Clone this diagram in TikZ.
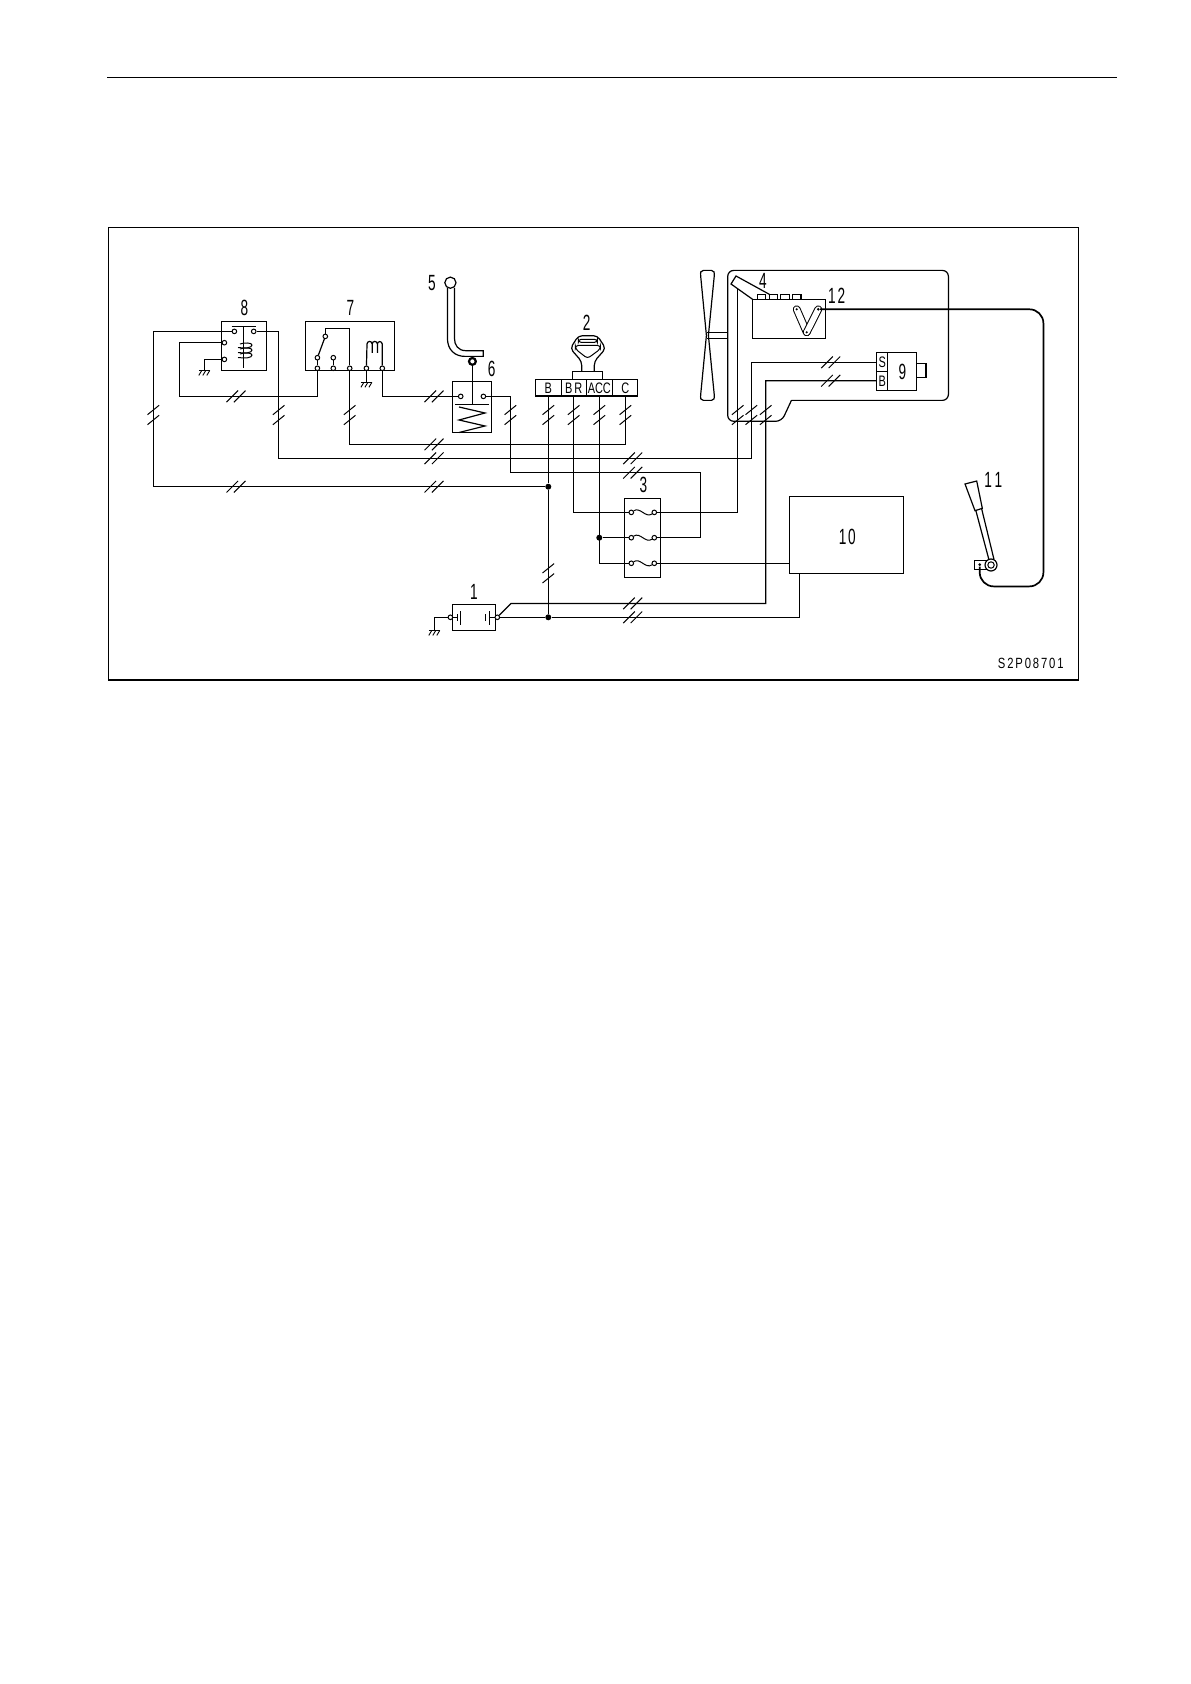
\documentclass[tikz,border=0pt]{standalone}
\usepackage{fontspec}
\setmainfont{Liberation Sans}
\tikzset{
  wire/.style={line width=0.6pt},
  contact/.style={circle, draw, fill=white, line width=0.5pt, inner sep=0pt, minimum size=2.3pt},
  junction/.style={circle, fill=black, inner sep=0pt, minimum size=3pt},
  housing/.style={draw, line width=0.6pt, fill=white, inner sep=0pt, outer sep=0pt, anchor=north west},
  callout/.style={font=\fontsize{11}{12}\selectfont, xscale=0.62, inner sep=0pt},
  pinlabel/.style={font=\fontsize{7.6}{8}\selectfont, xscale=0.72, inner sep=0pt},
  earth/.pic={
    \draw [wire] (-5.5, 0) -- (5.5, 0);
    \foreach \s in {-4, 0, 4}
      \draw [line width=0.45pt] (\s+1.5, 0) -- (\s-1.5, 5);
  }
}
\newcommand{\hashh}[2]{%
  \draw [line width=0.5pt] (#1-9.5, #2+5.8) -- (#1+2.1, #2-5.8);
  \draw [line width=0.5pt] (#1-2.1, #2+5.8) -- (#1+9.5, #2-5.8);
}
\newcommand{\hashv}[2]{%
  \draw [line width=0.5pt] (#1-5.8, #2-0.3) -- (#1+5.8, #2-9.7);
  \draw [line width=0.5pt] (#1-5.8, #2+9.7) -- (#1+5.8, #2+0.3);
}
\begin{document}
\begin{tikzpicture}[x=0.5pt, y=-0.5pt]
  \useasboundingbox (0, 0) rectangle (1190, 1684);

  % page rule and frame
  \coordinate (ruleL) at (107.4, 77.4);
  \coordinate (ruleR) at (1117, 77.4);
  \draw [line width=0.8pt] (ruleL) -- (ruleR);
  \node [housing, line width=0.7pt, minimum width=484.9pt, minimum height=226.3pt] (frame) at (108.4, 227.4) {};
  \node [font=\fontsize{7.4}{8}\selectfont, xscale=0.76, inner sep=0pt] (drawno) at (1030.7, 663) {S\,2\,P\,0\,8\,7\,0\,1};

  % housing 4 and fan
  \draw [wire, rounded corners=3pt] (791.4, 400.4) -- (948.4, 400.4) -- (948.4, 270.4) -- (727.7, 270.4) -- (727.7, 421.3) -- (781.7, 421.3) -- (791.4, 400.4);
  \draw [wire] (703.4, 270.4) -- (711.4, 270.4) .. controls (714.4, 270.4) and (714.4, 272.4) .. (714.2, 276.4) -- (708.4, 335.4) -- (714.2, 394.4) .. controls (714.4, 398.4) and (714.4, 400.4) .. (711.4, 400.4) -- (703.4, 400.4) .. controls (700.4, 400.4) and (700.4, 398.4) .. (700.7, 394.4) -- (706.4, 335.4) -- (700.7, 276.4) .. controls (700.4, 272.4) and (700.4, 270.4) .. (703.4, 270.4);
  \draw [wire] (707.4, 332.3) -- (727.7, 332.3);
  \draw [wire] (707.4, 338.3) -- (727.7, 338.3);

  % relay 8
  \node [housing, minimum width=22.2pt, minimum height=24.5pt] (relayB) at (221.7, 321.3) {};
  \node [callout] (num8) at (244.3, 308.3) {8};
  \draw [wire] (231.7, 326.4) -- (255.7, 326.4);
  \draw [wire] (243.7, 326.4) -- (243.7, 367.7);
  \foreach \y in {345, 350, 355}
    \draw [line width=0.5pt] (238, \y+2.5) .. controls (245, \y+3.5) and (252, \y+3) .. (252, \y) .. controls (252, \y-2.5) and (244, \y-2.5) .. (240, \y-1);
  \node [contact] (rlyA) at (234.4, 331.4) {};
  \node [contact] (rlyB) at (253.7, 331.4) {};
  \node [contact] (rlyC) at (224.4, 342.7) {};
  \node [contact] (rlyD) at (224.4, 359.4) {};

  % switch box 7
  \node [housing, minimum width=44.3pt, minimum height=24.5pt] (boxG) at (305.7, 321.3) {};
  \node [callout] (num7) at (350.3, 308.3) {7};
  \node [contact] (pinA) at (317.4, 368.3) {};
  \node [contact] (pinB) at (333.3, 368.3) {};
  \node [contact] (pinC) at (349.7, 368.3) {};
  \node [contact] (pinD) at (366.4, 368.3) {};
  \node [contact] (pinE) at (382.3, 368.3) {};
  \node [contact] (armA) at (317.4, 357.7) {};
  \node [contact] (armB) at (333.3, 357.7) {};
  \node [contact] (armC) at (325.3, 336.4) {};
  \draw [wire] (pinA) -- (armA);
  \draw [wire] (pinB) -- (armB);
  \draw [wire] (armA) -- (armC);
  \coordinate (armTop) at (349.7, 328.4);
  \draw [wire] (armC) |- (armTop) -- (pinC);
  \draw [wire] (pinD) -- (367, 344) arc [start angle=180, end angle=360, radius=2.6] -- (372.2, 353);
  \draw [wire] (372.2, 344) arc [start angle=180, end angle=360, radius=2.6] -- (377.4, 353);
  \draw [wire] (377.4, 344) arc [start angle=180, end angle=360, radius=2.4] -- (pinE);

  % lever 5 and limit switch 6
  \node [callout] (num5) at (432, 282.7) {5};
  \node [callout] (num6) at (491.7, 369) {6};
  \draw [wire] (447.4, 288) -- (447.4, 338) .. controls (447.4, 350) and (455, 356.4) .. (465, 356.4) -- (483.3, 356.4) -- (483.3, 350.7) -- (466, 350.7) .. controls (458, 350.7) and (454.4, 345) .. (454.4, 338) -- (454.4, 288);
  \node [circle, draw, fill=white, wire, inner sep=0pt, minimum size=5.6pt] (knob) at (450.4, 282.7) {};
  \node [circle, draw, fill=white, line width=1.1pt, inner sep=0pt, minimum size=3.4pt] (ring) at (472.4, 361.4) {};
  \node [housing, minimum width=19.3pt, minimum height=25.5pt] (limit) at (452.7, 381.7) {};
  \coordinate (plate) at (472.4, 404.3);
  \draw [wire] (ring) -- (plate);
  \draw [wire] (455.4, 404.3) -- (489.4, 404.3);
  \draw [wire] (459, 407) -- (485, 413) -- (459, 420) -- (485, 426) -- (459, 432.5);
  \node [contact] (limA) at (460.7, 396.4) {};
  \node [contact] (limB) at (483.4, 396.4) {};

  % key switch 2
  \node [callout] (num2) at (586.7, 323.3) {2};
  \draw [wire, rounded corners=2pt] (581.7, 371.7) -- (581.7, 361.4) -- (570.3, 348.5) -- (578.4, 335.7) -- (597.4, 335.7) -- (605.7, 348.5) -- (594.3, 361.4) -- (594.3, 371.7);
  \draw [line width=0.5pt, rounded corners=1.5pt] (578.3, 339.3) rectangle (597.3, 342.4);
  \draw [line width=0.5pt, rounded corners=1.5pt] (575.4, 345.4) -- (600.4, 345.4) -- (600.4, 349) -- (587.5, 358.5) -- (575.4, 349) -- cycle;
  \node [housing, minimum width=14.8pt, minimum height=4pt] (keyBase) at (572.7, 371.7) {};
  \node [housing, minimum width=51.2pt, minimum height=8.2pt] (strip) at (535.3, 379.7) {};
  \foreach \x in {561.4, 586.7, 612.3}
    \draw [wire] (\x, 379.7) -- (\x, 396.1);
  \node [pinlabel] (lblB) at (548.3, 388.3) {B};
  \node [pinlabel] (lblBR) at (573.7, 388.3) {B\,R};
  \node [pinlabel] (lblACC) at (599.3, 388.3) {ACC};
  \node [pinlabel] (lblC) at (625.4, 388.3) {C};
  \coordinate (keyB) at (548.3, 396.1);
  \coordinate (keyR) at (573.7, 396.1);
  \coordinate (keyA) at (599.3, 396.1);
  \coordinate (keyC) at (625.4, 396.1);

  % fuse box 3
  \node [housing, minimum width=18pt, minimum height=39.7pt] (fuses) at (624.7, 498.4) {};
  \node [callout] (num3) at (643.3, 485) {3};
  \foreach \f/\y in {1/512.4, 2/537.7, 3/563.3} {
    \node [contact] (fl\f) at (631.3, \y) {};
    \node [contact] (fr\f) at (654.3, \y) {};
    \draw [line width=0.5pt] (fl\f) .. controls ([shift={(9, -6)}]fl\f) and ([shift={(-9, 6)}]fr\f) .. (fr\f);
  }

  % governor motor 4, box 12 and links
  \node [callout] (num4) at (763, 280.7) {4};
  \node [callout] (num12) at (836.7, 296) {1\hspace{1.5pt}2};
  \foreach \x in {757.3, 769.3, 780.7, 792.4}
    \draw [wire] (\x, 299.4) -- (\x, 294.3) -- (\x+8.5, 294.3) -- (\x+8.5, 299.4);
  \node [housing, minimum width=36.3pt, minimum height=19.5pt] (motor) at (752.7, 299.4) {};
  \draw [wire] (752.7, 299.4) -- (731, 284) -- (736, 276) -- (769.3, 294.3);
  \coordinate (leverEnd) at (737.7, 288.5);
  \draw [line width=3.9pt, line cap=round] (796.7, 309.3) -- (806.7, 332.3);
  \draw [white, line width=2.9pt, line cap=round] (796.7, 309.3) -- (806.7, 332.3);
  \draw [line width=3.9pt, line cap=round] (818.3, 309.3) -- (806.7, 332.3);
  \draw [white, line width=2.9pt, line cap=round] (818.3, 309.3) -- (806.7, 332.3);
  \node [circle, fill=black, inner sep=0pt, minimum size=1.2pt] (pivotA) at (796.7, 309.3) {};
  \node [circle, fill=black, inner sep=0pt, minimum size=1.2pt] (pivotB) at (806.7, 332.3) {};
  \node [circle, fill=black, inner sep=0pt, minimum size=1.4pt] (pivotC) at (818.3, 309.3) {};

  % solenoid 9
  \node [housing, minimum width=4.8pt, minimum height=7pt] (plunger) at (916.4, 363.4) {};
  \node [housing, minimum width=19.7pt, minimum height=18.8pt] (solenoid) at (876.7, 352.7) {};
  \draw [wire] (887.7, 352.7) -- (887.7, 390.3);
  \draw [wire] (876.7, 371.4) -- (887.7, 371.4);
  \node [pinlabel] (lblS) at (882.3, 362.3) {S};
  \node [pinlabel] (lblSB) at (882.3, 381.4) {B};
  \node [callout] (num9) at (902.3, 372.3) {9};
  \coordinate (solS) at (876.7, 362.3);
  \coordinate (solB) at (876.7, 380.7);

  % controller 10
  \node [housing, minimum width=56.8pt, minimum height=38.3pt] (ctrl) at (789.7, 496.7) {};
  \node [callout] (num10) at (847.3, 536.7) {1\hspace{1.5pt}0};
  \coordinate (ctrlW) at (789.7, 563.3);
  \coordinate (ctrlS) at (799.7, 573.3);

  % fuel lever 11
  \node [callout] (num11) at (993.3, 480) {1\hspace{2pt}1};
  \draw [wire] (965, 484) -- (976.7, 481) -- (982.3, 508.3) -- (975, 510.7) -- cycle;
  \draw [wire] (975.8, 510.4) -- (989, 560);
  \draw [wire] (981.6, 508.6) -- (994, 559.5);
  \node [housing, minimum width=6.4pt, minimum height=4.3pt] (leverBase) at (974.4, 560.7) {};
  \node [circle, draw, fill=white, wire, inner sep=0pt, minimum size=6pt] (pivotOut) at (991, 565) {};
  \node [circle, draw, line width=0.5pt, inner sep=0pt, minimum size=3.2pt] (pivotIn) at (991, 565) {};
  \node [circle, fill=black, inner sep=0pt, minimum size=1.5pt] (cableEnd) at (979.7, 564.7) {};

  % battery 1
  \node [housing, minimum width=21.3pt, minimum height=13.2pt] (battery) at (452.7, 604.4) {};
  \node [callout] (num1) at (474, 591.7) {1};
  \node [contact] (batL) at (450.4, 617.3) {};
  \node [contact] (batR) at (497.3, 617.3) {};
  \draw [wire] (batL) -- (457.3, 617.3);
  \draw [wire] (457.3, 614) -- (457.3, 621);
  \draw [wire] (460.7, 611) -- (460.7, 625);
  \draw [wire] (485.7, 614) -- (485.7, 621);
  \draw [wire] (489.4, 611) -- (489.4, 625);
  \draw [wire] (489.4, 617.3) -- (batR);

  % junctions
  \node [junction] (dotA) at (548.3, 486.7) {};
  \node [junction] (dotB) at (548.3, 617.3) {};
  \node [junction] (dotC) at (599.3, 537.7) {};

  % wiring
  \coordinate (bendA) at (153.3, 486.7);
  \coordinate (bendB) at (278.7, 458.3);
  \coordinate (bendC) at (751.3, 362.3);
  \coordinate (bendD) at (179.4, 396.4);
  \coordinate (bendE) at (625.4, 444.4);
  \coordinate (bendF) at (510.4, 472.5);
  \coordinate (bendG) at (700.3, 537.7);
  \coordinate (bendH) at (511, 603.4);
  \coordinate (bendI) at (765.7, 380.7);
  \coordinate (gndA) at (204.3, 370.4);
  \coordinate (gndB) at (366.4, 382.3);
  \coordinate (gndC) at (434.3, 630.4);
  \draw [wire] (rlyA) -| (bendA) -- (dotA);
  \draw [wire] (rlyB) -| (bendB) -| (bendC) -- (solS);
  \draw [wire] (rlyC) -| (bendD) -| (pinA);
  \draw [wire] (rlyD) -| (gndA);
  \draw [wire] (pinC) |- (bendE) -- (keyC);
  \draw [wire] (pinD) -- (gndB);
  \draw [wire] (pinE) |- (limA);
  \draw [wire] (limB) -| (bendF) -| (bendG) -- (fr2);
  \draw [wire] (keyB) -- (dotA) -- (dotB);
  \draw [wire] (keyR) |- (fl1);
  \draw [wire] (keyA) |- (fl3);
  \draw [wire] (dotC) -- (fl2);
  \draw [wire] (fr1) -| (leverEnd);
  \draw [wire] (fr3) -- (ctrlW);
  \draw [wire] (batR) -- (dotB) -| (ctrlS);
  \draw [wire] (batR) -- (bendH) -| (bendI) -- (solB);
  \draw [wire] (batL) -| (gndC);
  \draw [line width=0.85pt, rounded corners=7pt] (pivotC) -- (1043.4, 309.3) -- (1043.4, 586.4) -- (979.7, 586.4) -- (cableEnd);

  % grounds
  \pic at (gndA) {earth};
  \pic at (gndB) {earth};
  \pic at (gndC) {earth};

  % wire bundle marks
  \foreach \x/\y in {236/396.4, 434/396.4, 434/444.4, 434/458.3, 236/486.7, 434/486.7, 632.7/458.3, 632.7/472.7, 632.7/603.4, 632.7/617.3, 830.7/362.3, 830.7/380.7} {
    \hashh{\x}{\y}
  }
  \foreach \x/\y in {153.3/415, 278.7/415, 349.7/415, 510.4/415, 548.3/415, 573.7/415, 599.3/415, 625.4/415, 737.7/415, 751.3/415, 765.7/415, 548.3/573.3} {
    \hashv{\x}{\y}
  }
\end{tikzpicture}
\end{document}
